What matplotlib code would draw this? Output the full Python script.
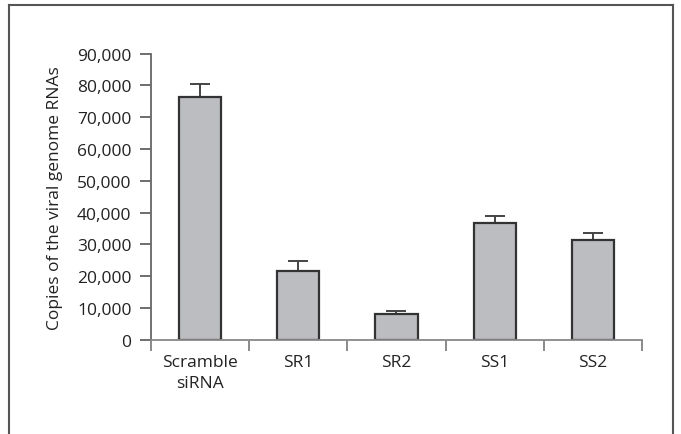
import matplotlib.pyplot as plt
from matplotlib.lines import Line2D
import numpy as np

plt.rcParams['font.family'] = ['Open Sans', 'DejaVu Sans']

groups = ['Scramble\nsiRNA', 'SR1', 'SR2', 'SS1', 'SS2']
copies = [76400, 21600, 8300, 36850, 31500]
errors = [4100, 3300, 950, 2200, 2000]
y_ticks = [0, 10000, 20000, 30000, 40000, 50000, 60000, 70000, 80000, 90000]

fig = plt.figure(figsize=(6.81, 4.35), dpi=100)
ax = fig.add_axes([0.2217, 0.2161, 0.7210, 0.6586])

x = np.arange(len(groups))
ax.bar(x, copies, width=0.43, color='#bcbdc1', edgecolor='#333333', linewidth=1.6,
       zorder=2)
ax.errorbar(x, copies, yerr=[np.zeros(len(errors)), errors], fmt='none',
            ecolor='#444444', elinewidth=1.4, capsize=7, capthick=1.4, zorder=1)

ax.set_xlim(-0.5, len(groups) - 0.5)
ax.set_ylim(0, 90000)
ax.set_yticks(y_ticks)
ax.set_yticklabels([f'{v:,}' for v in y_ticks], fontsize=12.5, color='#222222')
ax.set_xticks(x)
ax.set_xticklabels(groups, fontsize=12.5, color='#222222', linespacing=1.45)
ax.set_xticks(np.arange(-0.5, len(groups)), minor=True)
ax.tick_params(axis='x', which='major', length=0, pad=10)
ax.tick_params(axis='x', which='minor', length=8, width=1.2, color='#777777')
ax.tick_params(axis='y', length=8, width=1.2, color='#555555', pad=6)

ax.spines['top'].set_visible(False)
ax.spines['right'].set_visible(False)
ax.spines['left'].set_color('#666666')
ax.spines['left'].set_linewidth(1.3)
ax.spines['bottom'].set_color('#888888')
ax.spines['bottom'].set_linewidth(1.3)

ax.set_ylabel('Copies of the viral genome RNAs', fontsize=12.5, color='#222222',
              labelpad=10)

# open frame around the figure (no bottom edge), pixel coords from top-left
W, H = 681, 435
frame = [((9, 9), (440, 6)), ((9, 673), (6, 6)), ((673, 673), (6, 440))]
for xs, ys in frame:
    fig.add_artist(Line2D([xs[0] / W, xs[1] / W],
                          [1 - ys[0] / H, 1 - ys[1] / H],
                          color='#555555', linewidth=1.5))

plt.savefig('out.png', dpi=100)
